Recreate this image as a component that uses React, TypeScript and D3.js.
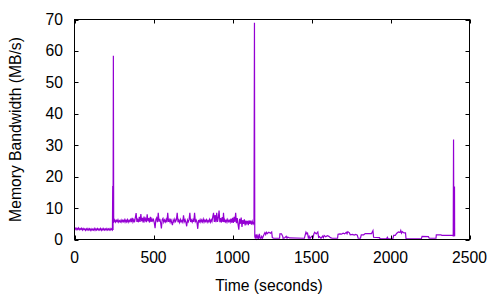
import React from "react";
import * as d3 from "d3";

// Time (s), memory bandwidth (MB/s)
const PHASE_1: [number, number][] = [
  [0, 3.2], [5, 3.6], [10, 3.1], [15, 3.6], [20, 3.2], [25, 3.7], [30, 3.1], [35, 3.5],
  [40, 3.2], [45, 3.6], [50, 3.0], [55, 3.5], [60, 3.1], [65, 3.4], [70, 2.9], [75, 3.4],
  [80, 3.0], [85, 3.5], [90, 3.0], [95, 3.4], [100, 2.9], [105, 3.4], [110, 2.9], [115, 3.3],
  [120, 3.0], [125, 3.5], [130, 2.9], [135, 3.4], [140, 3.0], [145, 3.5], [150, 3.0], [155, 3.4],
  [160, 3.0], [165, 3.5], [170, 2.9], [175, 3.4], [180, 3.0], [185, 3.5], [190, 3.0], [195, 3.4],
  [200, 3.0], [205, 3.5], [210, 3.0], [215, 3.4], [220, 3.0], [225, 3.5], [230, 3.0], [235, 3.4],
  [240, 3.1], [242, 17.0], [244, 3.0], [246, 58.5], [248, 5.5],
];

const PHASE_2: [number, number][] = [
  [250, 5.6], [255, 6.2], [260, 5.5], [265, 6.1], [270, 5.7], [275, 6.3], [280, 5.5], [285, 6.0],
  [290, 5.6], [295, 6.2], [300, 5.5], [305, 6.1], [310, 5.7], [315, 6.3], [320, 5.5], [325, 6.2],
  [330, 5.6], [335, 6.3], [340, 5.5], [345, 6.1], [350, 5.7], [355, 6.6], [360, 5.5], [365, 6.9],
  [370, 5.6], [375, 6.3], [380, 5.5], [385, 7.0], [390, 8.4], [395, 5.6], [400, 6.3], [405, 5.5],
  [410, 7.2], [415, 5.6], [420, 8.1], [425, 5.8], [430, 6.9], [435, 5.4], [440, 7.3], [445, 5.9],
  [450, 6.6], [455, 5.5], [460, 8.0], [465, 5.8], [470, 6.8], [475, 5.4], [480, 7.2], [485, 5.6],
  [490, 6.6], [495, 5.9], [500, 6.4], [505, 5.3], [510, 3.6], [515, 6.4], [520, 6.9], [525, 5.5],
  [530, 8.5], [535, 5.7], [540, 6.6], [545, 5.4], [550, 3.5], [555, 6.3], [560, 6.7], [565, 5.5],
  [570, 6.2], [575, 5.6], [580, 6.4], [585, 5.5], [590, 8.5], [595, 5.6], [600, 6.3], [605, 5.5],
  [610, 6.6], [615, 5.4], [620, 4.6], [625, 6.2], [630, 5.6], [635, 6.5], [640, 5.7], [645, 6.3],
  [650, 8.5], [655, 5.5], [660, 6.2], [665, 5.4], [670, 6.4], [675, 5.6], [680, 6.1], [685, 5.5],
  [690, 7.7], [695, 5.7], [700, 6.3], [705, 5.5], [710, 4.2], [715, 6.2], [720, 5.6], [725, 6.3],
  [730, 8.5], [735, 5.6], [740, 6.2], [745, 5.5], [750, 6.3], [755, 5.6], [760, 8.5], [765, 5.7],
  [770, 6.2], [775, 5.5], [780, 3.4], [785, 6.2], [790, 5.6], [795, 6.3], [800, 5.5], [805, 6.2],
  [810, 5.6], [815, 6.5], [820, 5.5], [825, 6.2], [830, 5.7], [835, 6.3], [840, 5.5], [845, 6.1],
  [850, 5.6], [855, 6.4], [860, 5.5], [865, 6.3], [870, 5.7], [875, 7.2], [880, 8.5], [885, 5.6],
  [890, 7.8], [895, 5.5], [900, 8.5], [905, 5.6], [910, 6.9], [915, 9.2], [920, 5.5], [925, 6.8],
  [930, 5.4], [935, 7.1], [940, 5.6], [943, 8.5], [947, 5.5], [950, 6.3], [955, 5.6], [960, 6.2],
  [965, 5.5], [970, 6.4], [975, 5.7], [980, 6.1], [985, 5.5], [990, 6.6], [995, 5.4], [1000, 6.9],
  [1005, 5.3], [1010, 7.2], [1015, 5.6], [1020, 8.5], [1025, 5.2], [1030, 6.8], [1035, 4.8],
  [1040, 3.1], [1045, 6.6], [1050, 5.0], [1055, 7.0], [1060, 4.0], [1065, 6.2], [1070, 5.0],
  [1075, 6.4], [1080, 4.5], [1085, 6.0], [1090, 5.1], [1095, 5.9], [1100, 4.6], [1105, 6.1],
  [1110, 5.0], [1115, 6.0], [1120, 4.7], [1125, 5.8], [1130, 5.0], [1134, 5.6], [1136, 4.8],
  [1139, 69.0], [1141, 1.0],
];

const PHASE_3: [number, number][] = [
  [1145, 0.3], [1150, 1.6], [1155, 0.4], [1160, 1.2], [1165, 0.2], [1170, 1.8], [1175, 0.5],
  [1180, 0.3], [1185, 1.0], [1190, 0.4], [1200, 1.7], [1205, 2.2], [1210, 1.6], [1215, 2.3],
  [1220, 1.9], [1230, 2.3], [1240, 2.0], [1248, 2.4], [1252, 0.6], [1260, 0.4], [1298, 0.4],
  [1300, 1.8], [1310, 1.8], [1318, 1.0], [1320, 0.4], [1330, 0.5], [1340, 1.0], [1345, 0.4],
  [1350, 0.8], [1360, 0.5], [1455, 0.4], [1460, 1.4], [1465, 2.3], [1470, 1.8], [1475, 2.0],
  [1480, 0.5], [1485, 1.0], [1490, 0.3], [1500, 1.0], [1510, 0.6], [1515, 1.8], [1520, 2.3],
  [1530, 1.8], [1540, 2.4], [1545, 0.7], [1550, 0.9], [1560, 0.4], [1570, 1.1], [1575, 0.6],
  [1580, 1.3], [1590, 0.9], [1600, 1.2], [1610, 1.0], [1620, 0.6], [1630, 0.4], [1665, 0.4],
  [1668, 1.7], [1680, 1.8], [1690, 1.7], [1700, 2.0], [1710, 1.8], [1720, 2.3], [1725, 1.8],
  [1730, 2.5], [1740, 2.1], [1745, 1.5], [1760, 1.6], [1770, 1.4], [1780, 1.6], [1790, 1.4],
  [1795, 0.4], [1810, 0.4], [1815, 1.5], [1830, 1.5], [1840, 1.9], [1880, 1.9], [1889, 2.8],
  [1893, 0.7], [1930, 0.6], [1935, 0.2], [1975, 0.2], [1980, 0.7], [1985, 0.2], [2015, 0.2],
  [2020, 1.3], [2030, 1.3], [2040, 2.0], [2050, 2.4], [2060, 2.2], [2065, 2.9], [2070, 2.0],
  [2075, 2.5], [2085, 2.1], [2095, 2.1], [2098, 0.4], [2100, 0.2], [2195, 0.2], [2200, 1.0],
  [2240, 0.9], [2245, 0.4], [2288, 0.4], [2290, 1.5], [2320, 1.5], [2325, 1.3], [2395, 1.3],
  [2397, 1.0], [2399, 31.8], [2401, 1.0], [2403, 1.5], [2405, 16.9], [2406, 1.0],
];

const X_TICKS = [0, 500, 1000, 1500, 2000, 2500];
const Y_TICKS = [0, 10, 20, 30, 40, 50, 60, 70];
const X_LABEL = "Time (seconds)";
const Y_LABEL = "Memory Bandwidth (MB/s)";

const W = 500;
const H = 300;
const LEFT = 74.5;
const RIGHT = 469.5;
const TOP = 19.5;
const BOTTOM = 239.5;
const TICK = 4;
const FONT = "'Liberation Sans', Arial, sans-serif";
const FS = 15.7;

export default function App() {
  const data = [...PHASE_1, ...PHASE_2, ...PHASE_3];
  const x = d3.scaleLinear().domain([0, 2500]).range([LEFT, RIGHT]);
  const y = d3.scaleLinear().domain([0, 70]).range([BOTTOM, TOP]);
  const line = d3
    .line<[number, number]>()
    .x((d) => x(d[0]))
    .y((d) => y(d[1]));

  return (
    <svg
      width={W}
      height={H}
      style={{ position: "absolute", left: 0, top: 0, background: "#fff" }}
      fontFamily={FONT}
      fontSize={FS}
    >
      <rect x={0} y={0} width={W} height={H} fill="#fff" />
      <path d={line(data) ?? ""} fill="none" stroke="#9400d3" strokeWidth={1.2} />
      {Y_TICKS.map((t) => (
        <g key={"y" + t}>
          <line x1={LEFT} x2={LEFT + TICK} y1={Math.round(y(t)) + 0.5} y2={Math.round(y(t)) + 0.5} stroke="#000" />
          <line x1={RIGHT} x2={RIGHT - TICK} y1={Math.round(y(t)) + 0.5} y2={Math.round(y(t)) + 0.5} stroke="#000" />
          <text x={63} y={y(t) + 5.5} textAnchor="end" fill="#000">
            {t}
          </text>
        </g>
      ))}
      {X_TICKS.map((t) => (
        <g key={"x" + t}>
          <line x1={Math.round(x(t)) + 0.5} x2={Math.round(x(t)) + 0.5} y1={BOTTOM} y2={BOTTOM - TICK} stroke="#000" />
          <line x1={Math.round(x(t)) + 0.5} x2={Math.round(x(t)) + 0.5} y1={TOP} y2={TOP + TICK} stroke="#000" />
          <text x={x(t)} y={263} textAnchor="middle" fill="#000">
            {t}
          </text>
        </g>
      ))}
      <rect x={LEFT} y={TOP} width={RIGHT - LEFT} height={BOTTOM - TOP} fill="none" stroke="#000" />
      <text x={269} y={291} textAnchor="middle" fill="#000">
        {X_LABEL}
      </text>
      <text
        transform={`translate(21, ${(TOP + BOTTOM) / 2}) rotate(-90)`}
        textAnchor="middle"
        fill="#000"
      >
        {Y_LABEL}
      </text>
    </svg>
  );
}
